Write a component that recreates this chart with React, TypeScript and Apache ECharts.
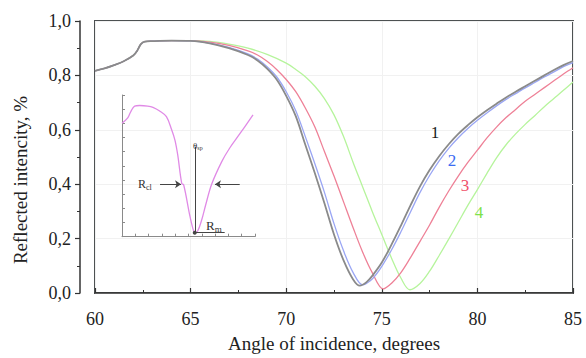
import React, { useEffect, useRef } from "react";
import * as echarts from "echarts";

// Angle of incidence (deg), reflected intensity
const curve1: [number, number][] = [
  [60, 0.817], [60.5, 0.826], [61, 0.838], [61.5, 0.852], [62, 0.873], [62.2, 0.89], [62.4, 0.915], [62.6, 0.924],
  [63, 0.926], [64, 0.928], [65, 0.927], [66, 0.918], [67, 0.9], [68, 0.875], [68.5, 0.855], [69, 0.825],
  [69.5, 0.785], [70, 0.725], [70.5, 0.65], [71, 0.545], [71.5, 0.44], [72, 0.33], [72.5, 0.215], [73, 0.12],
  [73.5, 0.05], [73.85, 0.027], [74.2, 0.04], [74.5, 0.063], [75, 0.112], [75.5, 0.177], [76, 0.248], [76.5, 0.322],
  [77, 0.392], [77.5, 0.452], [78, 0.503], [78.5, 0.547], [79, 0.585], [79.5, 0.617], [80, 0.646], [80.5, 0.672],
  [81, 0.696], [81.5, 0.719], [82, 0.74], [82.5, 0.76], [83, 0.78], [83.5, 0.8], [84, 0.82], [84.5, 0.838], [85, 0.853],
];
const curve2: [number, number][] = [
  [60, 0.817], [60.5, 0.826], [61, 0.838], [61.5, 0.852], [62, 0.873], [62.2, 0.89], [62.4, 0.915], [62.6, 0.924],
  [63, 0.926], [64, 0.928], [65, 0.927], [66, 0.919], [67, 0.903], [68, 0.879], [68.5, 0.86], [69, 0.832],
  [69.5, 0.795], [70, 0.74], [70.5, 0.67], [71, 0.575], [71.5, 0.475], [72, 0.37], [72.5, 0.255], [73, 0.155],
  [73.5, 0.075], [74, 0.03], [74.4, 0.045], [74.7, 0.068], [75, 0.098], [75.5, 0.157], [76, 0.225], [76.5, 0.298],
  [77, 0.37], [77.5, 0.432], [78, 0.486], [78.5, 0.532], [79, 0.571], [79.5, 0.605], [80, 0.635], [80.5, 0.662],
  [81, 0.688], [81.5, 0.712], [82, 0.733], [82.5, 0.754], [83, 0.774], [83.5, 0.794], [84, 0.813], [84.5, 0.832], [85, 0.847],
];
const curve3: [number, number][] = [
  [60, 0.817], [60.5, 0.826], [61, 0.838], [61.5, 0.852], [62, 0.873], [62.2, 0.89], [62.4, 0.915], [62.6, 0.924],
  [63, 0.926], [64, 0.928], [65, 0.928], [66, 0.922], [67, 0.91], [68, 0.89], [68.5, 0.875], [69, 0.852],
  [69.5, 0.822], [70, 0.785], [70.5, 0.74], [71, 0.68], [71.5, 0.61], [72, 0.52], [72.5, 0.43], [73, 0.335],
  [73.5, 0.24], [74, 0.15], [74.5, 0.075], [75.08, 0.015], [75.5, 0.035], [76, 0.075], [76.5, 0.13], [77, 0.19],
  [77.5, 0.25], [78, 0.315], [78.5, 0.375], [79, 0.43], [79.5, 0.48], [80, 0.525], [80.5, 0.57], [81, 0.61],
  [81.5, 0.645], [82, 0.675], [82.5, 0.705], [83, 0.73], [83.5, 0.755], [84, 0.78], [84.5, 0.805], [85, 0.828],
];
const curve4: [number, number][] = [
  [60, 0.817], [60.5, 0.826], [61, 0.838], [61.5, 0.852], [62, 0.873], [62.2, 0.89], [62.4, 0.915], [62.6, 0.924],
  [63, 0.926], [64, 0.928], [65, 0.928], [66, 0.925], [67, 0.915], [68, 0.9], [69, 0.877], [70, 0.845],
  [70.5, 0.822], [71, 0.795], [71.5, 0.76], [72, 0.715], [72.5, 0.655], [73, 0.575], [73.5, 0.48], [74, 0.39],
  [74.5, 0.3], [75, 0.215], [75.5, 0.13], [76, 0.055], [76.47, 0.012], [77, 0.035], [77.5, 0.08], [78, 0.138],
  [78.5, 0.198], [79, 0.26], [79.5, 0.322], [80, 0.38], [80.5, 0.44], [81, 0.497], [81.5, 0.545], [82, 0.585],
  [82.5, 0.62], [83, 0.652], [83.5, 0.685], [84, 0.715], [84.5, 0.745], [85, 0.776],
];

// Inset (schematic) curve in arbitrary units 0..10
const insetCurve: [number, number][] = [
  [0, 8.0], [0.43, 8.38], [0.65, 8.8], [0.95, 9.22], [1.33, 9.26], [1.93, 9.22], [2.33, 9.13], [2.83, 8.87],
  [3.34, 8.47], [3.74, 7.53], [3.98, 6.82], [4.19, 5.77], [4.49, 3.77], [4.64, 3.65], [5.09, 1.53], [5.32, 0.61],
  [5.47, 0.28], [5.69, 0.4], [5.99, 1.18], [6.29, 2.24], [6.74, 3.7], [7.5, 5.3], [8.1, 6.26], [8.85, 7.25], [9.85, 8.59],
];

const seriesNames = ["1", "2", "3", "4"];
const seriesColors = ["#8a8a8a", "#9aa6f4", "#ee8197", "#b6f49c"];
const labelColors = ["#1a1a1a", "#3b6cf2", "#f0506a", "#7fe24a"];

const xTicks = [60, 65, 70, 75, 80, 85];
const yTickStep = 0.2;

const SERIF = "'Liberation Serif', 'DejaVu Serif', serif";

export default function App() {
  const ref = useRef<HTMLDivElement>(null);
  useEffect(() => {
    if (!ref.current) return;
    const chart = echarts.init(ref.current, undefined, { renderer: "svg" });
    const data = [curve1, curve2, curve3, curve4];
    const labelPos: [number, number][] = [
      [435, 132],
      [452, 160],
      [465, 185],
      [479, 212],
    ];
    chart.setOption({
      animation: false,
      backgroundColor: "#fff",
      grid: [
        {
          left: 95,
          top: 21,
          width: 478,
          height: 276.5,
          show: true,
          borderColor: "#4d5152",
          borderWidth: 2,
          backgroundColor: "transparent",
        },
        { left: 122, top: 95, width: 133, height: 141.7, show: false },
      ],
      xAxis: [
        {
          type: "value",
          gridIndex: 0,
          min: xTicks[0],
          max: xTicks[xTicks.length - 1],
          interval: 5,
          offset: 10,
          name: "Angle of incidence, degrees",
          nameLocation: "middle",
          nameGap: 31,
          nameTextStyle: { fontFamily: SERIF, fontSize: 19, color: "#222" },
          axisLine: { show: true, lineStyle: { color: "#333", width: 1.5 } },
          axisTick: { show: true, inside: true, length: 5, lineStyle: { color: "#333", width: 1.2 } },
          minorTick: { show: true, splitNumber: 2, length: 3, lineStyle: { color: "#333" } },
          axisLabel: { fontFamily: SERIF, fontSize: 18, color: "#222", margin: 7 },
          splitLine: { show: true, lineStyle: { color: "#f1f1f1", width: 1 } },
        },
        {
          type: "value",
          gridIndex: 1,
          min: 0,
          max: 10,
          interval: 1,
          axisLine: { show: true, lineStyle: { color: "#8a8a8a", width: 1 } },
          axisTick: { show: true, inside: true, length: 3, lineStyle: { color: "#8a8a8a" } },
          axisLabel: { show: false },
          splitLine: { show: false },
        },
      ],
      yAxis: [
        {
          type: "value",
          gridIndex: 0,
          min: 0,
          max: 1,
          interval: yTickStep,
          offset: 15,
          axisLine: { show: true, lineStyle: { color: "#333", width: 1.5 } },
          axisTick: { show: true, inside: false, length: 5, lineStyle: { color: "#333", width: 1.2 } },
          minorTick: { show: true, splitNumber: 2, length: 3, lineStyle: { color: "#333" } },
          axisLabel: {
            fontFamily: SERIF,
            fontSize: 18,
            color: "#222",
            margin: 9,
            formatter: (v: number) => v.toFixed(1).replace(".", ","),
          },
          splitLine: { show: true, lineStyle: { color: "#f1f1f1", width: 1 } },
        },
        {
          type: "value",
          gridIndex: 1,
          min: 0,
          max: 10,
          interval: 1,
          axisLine: { show: true, lineStyle: { color: "#8a8a8a", width: 1 } },
          axisTick: { show: true, inside: true, length: 3, lineStyle: { color: "#8a8a8a" } },
          axisLabel: { show: false },
          splitLine: { show: false },
        },
      ],
      series: [
        ...data.map((d, i) => ({
          name: seriesNames[i],
          type: "line",
          xAxisIndex: 0,
          yAxisIndex: 0,
          data: d,
          smooth: 0.35,
          showSymbol: false,
          symbol: "none",
          lineStyle: { color: seriesColors[i], width: i === 0 ? 1.8 : 1.3 },
          z: 10 - i,
        })),
        {
          name: "inset",
          type: "line",
          xAxisIndex: 1,
          yAxisIndex: 1,
          data: insetCurve,
          smooth: 0.35,
          symbol: "none",
          lineStyle: { color: "#e08ae6", width: 1.3 },
          markLine: {
            silent: true,
            symbol: ["none", "none"],
            symbolSize: 6,
            label: { show: false },
            lineStyle: { color: "#444", width: 1, type: "solid" },
            data: [
              [{ coord: [5.47, 0.28] }, { coord: [5.47, 6.35] }],
              [{ coord: [2.86, 3.7], symbol: "none" }, { coord: [4.44, 3.7], symbol: "arrow" }],
              [{ coord: [8.85, 3.7], symbol: "none" }, { coord: [6.99, 3.7], symbol: "arrow" }],
              [{ coord: [5.47, 0.28], symbol: "circle", symbolSize: 4 }, { coord: [7.72, 0.28], symbol: "none" }],
            ],
          },
        },
      ],
      graphic: [
        {
          type: "text",
          x: 20,
          y: 180,
          rotation: Math.PI / 2,
          z: 100,
          style: {
            text: "Reflected intencity, %",
            fill: "#222",
            font: `19px ${SERIF}`,
            textAlign: "center",
            textVerticalAlign: "middle",
          },
        },
        ...seriesNames.map((n, i) => ({
          type: "text",
          x: labelPos[i][0],
          y: labelPos[i][1],
          z: 100,
          style: {
            text: n,
            fill: labelColors[i],
            font: `17px ${SERIF}`,
            textAlign: "center",
            textVerticalAlign: "middle",
          },
        })),
        {
          type: "text",
          x: 138,
          y: 176,
          z: 100,
          style: {
            text: "{a|R}{b|cl}",
            rich: {
              a: { fontFamily: SERIF, fontSize: 12, fill: "#333" },
              b: { fontFamily: SERIF, fontSize: 8, fill: "#333", padding: [7, 0, 0, 0] },
            },
          },
        },
        {
          type: "text",
          x: 193,
          y: 141,
          z: 100,
          style: {
            text: "{a|θ}{b|sp}",
            rich: {
              a: { fontFamily: SERIF, fontSize: 9, fill: "#333" },
              b: { fontFamily: SERIF, fontSize: 6, fill: "#333", padding: [4, 0, 0, 0] },
            },
          },
        },
        {
          type: "text",
          x: 206,
          y: 217,
          z: 100,
          style: {
            text: "{a|R}{b|m}",
            rich: {
              a: { fontFamily: SERIF, fontSize: 13, fill: "#333" },
              b: { fontFamily: SERIF, fontSize: 9, fill: "#333", padding: [7, 0, 0, 0] },
            },
          },
        },
      ],
    });
    return () => chart.dispose();
  }, []);
  return (
    <div
      ref={ref}
      style={{ width: 586, height: 358, position: "absolute", left: 0, top: 0 }}
    />
  );
}
